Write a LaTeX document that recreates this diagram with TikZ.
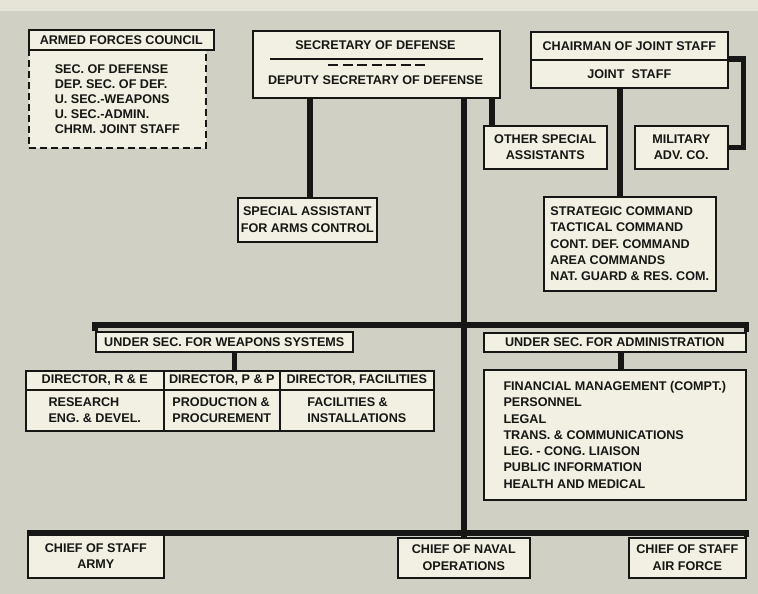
\documentclass[tikz,border=0pt]{standalone}
\usepackage{fontspec}
\setmainfont{Liberation Sans}
\definecolor{paper}{RGB}{208,208,196}
\definecolor{paperlight}{RGB}{229,228,215}
\definecolor{card}{RGB}{241,240,226}
\definecolor{ink}{RGB}{22,22,20}

\begin{document}
\begin{tikzpicture}[x=1pt, y=-1pt,
	every node/.style={font=\fontsize{12.6}{16.3}\selectfont\bfseries, text=ink},
	box/.style={draw=ink, line width=1.6pt, fill=card, anchor=north west, inner sep=0pt, align=center},
	listbox/.style={box, align=left},
	bar/.style={draw=ink, line width=5.5pt}]
	\fill[paper] (0,0) rectangle (758,594);
	\fill[paperlight] (0,0) rectangle (758,11);
	\useasboundingbox (0,0) rectangle (758,594);

	% top row
	\node[box, dash pattern=on 7pt off 4pt, align=left, minimum width=177pt, minimum height=98pt,
		font=\fontsize{12.6}{15}\selectfont\bfseries] (afcbody) at (28,49)
		{SEC. OF DEFENSE\\DEP. SEC. OF DEF.\\U. SEC.-WEAPONS\\U. SEC.-ADMIN.\\CHRM. JOINT STAFF};
	\node[box, minimum width=185pt, minimum height=20pt] (afc) at (28,29) {ARMED FORCES COUNCIL};

	\node[box, minimum width=247pt, minimum height=67pt] (secdef) at (252,30) {};
	\node (sectitle) at (375.5,45) {SECRETARY OF DEFENSE};
	\node (deputy) at (375.5,80) {DEPUTY SECRETARY OF DEFENSE};
	\draw[ink, line width=1.4pt] (270,59) -- (483,59);
	\draw[ink, line width=2.4pt, dash pattern=on 10pt off 4.5pt] (328,65) -- (425,65);

	\node[box, minimum width=197pt, minimum height=28pt] (chair) at (530,31) {CHAIRMAN OF JOINT STAFF};
	\node[box, minimum width=197pt, minimum height=28pt] (jstaff) at (530,59) {JOINT~~STAFF};

	\node[box, minimum width=123pt, minimum height=43pt] (other) at (483,125) {OTHER SPECIAL\\ASSISTANTS};
	\node[box, minimum width=93pt, minimum height=43pt] (military) at (634,125) {MILITARY\\ADV. CO.};
	\node[box, minimum width=139pt, minimum height=44pt] (armsctl) at (237,197) {SPECIAL ASSISTANT\\FOR ARMS CONTROL};
	\node[listbox, minimum width=172pt, minimum height=94pt] (commands) at (543,196)
		{STRATEGIC COMMAND\\TACTICAL COMMAND\\CONT. DEF. COMMAND\\AREA COMMANDS\\NAT. GUARD \& RES. COM.};

	% under secretaries
	\node[box, minimum width=257pt, minimum height=20pt] (weapons) at (95,331) {UNDER SEC. FOR WEAPONS SYSTEMS};
	\node[box, minimum width=262pt, minimum height=19pt] (admin) at (483,332) {UNDER SEC. FOR ADMINISTRATION};

	\node[box, minimum width=138pt, minimum height=19pt] (dirre) at (25,370) {DIRECTOR, R \& E};
	\node[box, minimum width=116pt, minimum height=19pt] (dirpp) at (163,370) {DIRECTOR, P \& P};
	\node[box, minimum width=154pt, minimum height=19pt] (dirfac) at (279,370) {DIRECTOR, FACILITIES};
	\node[listbox, minimum width=138pt, minimum height=41pt] (resdev) at (25,389) {RESEARCH\\ENG. \& DEVEL.};
	\node[listbox, minimum width=116pt, minimum height=41pt] (prodproc) at (163,389) {PRODUCTION \&\\PROCUREMENT};
	\node[listbox, minimum width=154pt, minimum height=41pt] (facinst) at (279,389) {FACILITIES \&\\INSTALLATIONS};

	\node[listbox, minimum width=262pt, minimum height=130pt] (finlist) at (483,369)
		{FINANCIAL MANAGEMENT (COMPT.)\\PERSONNEL\\LEGAL\\TRANS. \& COMMUNICATIONS\\LEG. - CONG. LIAISON\\PUBLIC INFORMATION\\HEALTH AND MEDICAL};

	% services
	\node[box, minimum width=136pt, minimum height=44pt] (army) at (27,533) {CHIEF OF STAFF\\ARMY};
	\node[box, minimum width=132pt, minimum height=40pt] (naval) at (397,537) {CHIEF OF NAVAL\\OPERATIONS};
	\node[box, minimum width=117pt, minimum height=40pt] (airforce) at (628,537) {CHIEF OF STAFF\\AIR FORCE};

	% connectors
	\draw[bar] (naval.north) -- (naval.north |- secdef.south);
	\draw[bar] ([xshift=2.5pt]armsctl.north) -- ([xshift=2.5pt]armsctl.north |- secdef.south);
	\draw[bar] ([xshift=9pt]other.north west) -- ([xshift=9pt]other.north west |- secdef.south);
	\draw[bar] ([xshift=-10pt]commands.north) -- ([xshift=-10pt]commands.north |- jstaff.south);
	\draw[bar] (jstaff.north east) -- ++(15,0) |- (military.east);
	\draw[bar] (weapons.north west) -- ++(0,-6) -| (admin.north east);
	\draw[bar] ([xshift=10pt]weapons.south) -- ([xshift=10pt]weapons.south |- dirpp.north);
	\draw[bar] ([xshift=6pt]admin.south) -- ([xshift=6pt]admin.south |- finlist.north);
	\draw[bar] (army.north west) -- (army.north west -| airforce.north east) -- (airforce.north east);
\end{tikzpicture}
\end{document}
